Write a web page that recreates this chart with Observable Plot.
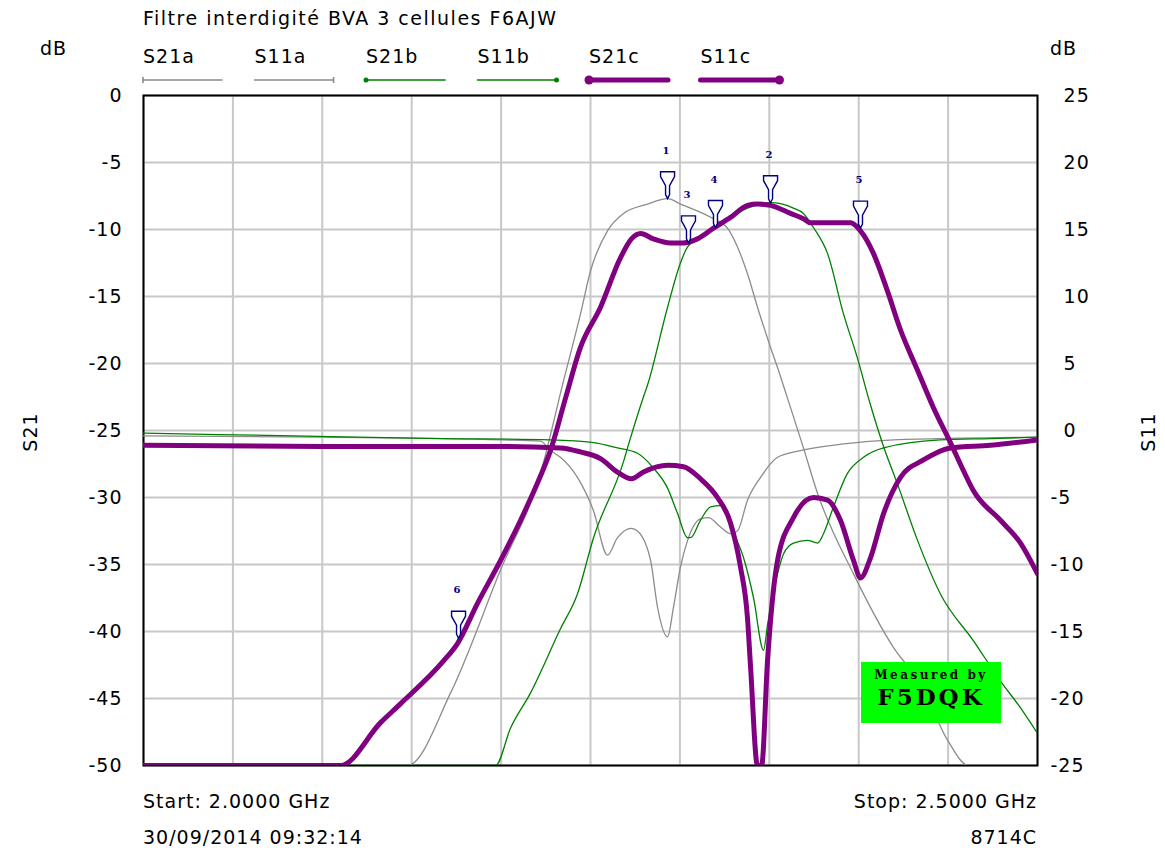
<!DOCTYPE html>
<html><head><meta charset="utf-8">
<script src="https://cdn.jsdelivr.net/npm/d3@7"></script>
<script src="https://cdn.jsdelivr.net/npm/@observablehq/plot@0.6"></script>
<style>
body{margin:0;background:#fff;}
#wrap{position:relative;width:1165px;height:854px;overflow:hidden;font-family:"DejaVu Sans",sans-serif;}
#wrap svg{position:absolute;left:0;top:0;}
.t{position:absolute;font-size:19px;letter-spacing:1px;color:#000;white-space:nowrap;line-height:1;transform:translateY(-50%);}
.r{transform:translate(-100%,-50%);}
.rot{transform:translate(-50%,-50%) rotate(-90deg);}
#badge{position:absolute;left:861px;top:662px;width:140px;height:61px;background:#00ff00;text-align:center;font-family:"DejaVu Serif",serif;font-weight:bold;color:#000;}
</style></head><body><div id="wrap"></div>
<script>
// ---------- data ----------
const title = "Filtre interdigité BVA 3 cellules F6AJW";
const xGrid = [2.00, 2.05, 2.10, 2.15, 2.20, 2.25, 2.30, 2.35, 2.40, 2.45, 2.50];
const yTicksS21 = [0, -5, -10, -15, -20, -25, -30, -35, -40, -45, -50];
const s11Offset = 25; // right axis (S11) = left axis (S21) + 25

const seriesNames = ["S21a", "S11a", "S21b", "S11b", "S21c", "S11c"];
const seriesColors = ["#8c8c8c", "#8c8c8c", "#008000", "#008000", "#800080", "#800080"];

// S21a (dB, left axis)
const s21aFreq = [2.0, 2.1477, 2.1717, 2.1997, 2.2220, 2.2349, 2.2444, 2.2500, 2.2595, 2.2685, 2.2819, 2.2931, 2.3003, 2.3188, 2.3266, 2.3322, 2.3378, 2.3434, 2.3507, 2.3546, 2.3602, 2.3691, 2.3770, 2.3971, 2.4195, 2.4346, 2.4497, 2.4614, 2.5];
const s21aDb   = [-50, -50, -44.6, -35.4, -28.2, -21.3, -16.3, -13.1, -10.1, -8.8, -8.1, -7.7, -8.1, -9.2, -9.9, -11.3, -13.3, -15.8, -18.8, -20.3, -22.6, -26.3, -29.7, -35.7, -41.2, -43.9, -48.1, -50, -50];

// S11a (dB, right axis)
const s11aFreq = [2.0, 2.1, 2.2, 2.2220, 2.2276, 2.2332, 2.2427, 2.2517, 2.2595, 2.2651, 2.2729, 2.2763, 2.2836, 2.2875, 2.2931, 2.2964, 2.3003, 2.3043, 2.3115, 2.3160, 2.3227, 2.3283, 2.3322, 2.3378, 2.3451, 2.3546, 2.3674, 2.3915, 2.4195, 2.5];
const s11aDb   = [-0.4, -0.5, -0.7, -0.8, -1.5, -2.0, -3.5, -6.0, -9.3, -8.0, -7.3, -7.5, -9.7, -13.2, -15.4, -13.2, -10.2, -8.2, -6.6, -6.5, -7.2, -7.7, -7.5, -5.2, -3.5, -2.0, -1.5, -1.0, -0.7, -0.5];

// S21b (dB, left axis)
const s21bFreq = [2.0, 2.1969, 2.2053, 2.2164, 2.2332, 2.2427, 2.2517, 2.2685, 2.2707, 2.2796, 2.2819, 2.2931, 2.3003, 2.3043, 2.3115, 2.3227, 2.3378, 2.3507, 2.3635, 2.3691, 2.3747, 2.3826, 2.3915, 2.3993, 2.4066, 2.4139, 2.4217, 2.4329, 2.4457, 2.4642, 2.4793, 2.4905, 2.5];
const s21bDb   = [-50, -50, -47.2, -44.6, -39.8, -37.2, -33.0, -27.3, -26.3, -22.5, -21.6, -15.8, -12.5, -11.3, -10.6, -9.6, -8.4, -8.0, -8.4, -8.8, -9.85, -11.8, -16.3, -19.6, -23.1, -26.2, -29.0, -33.2, -37.2, -40.7, -43.7, -45.7, -47.6];

// S11b (dB, right axis)
const s11bFreq = [2.0, 2.0839, 2.1677, 2.2276, 2.2517, 2.2651, 2.2763, 2.2852, 2.2931, 2.2987, 2.3043, 2.3059, 2.3115, 2.3171, 2.3227, 2.3266, 2.3305, 2.3356, 2.3412, 2.3468, 2.3490, 2.3546, 2.3580, 2.3635, 2.3714, 2.3770, 2.3803, 2.3859, 2.3937, 2.4027, 2.4139, 2.4457, 2.4737, 2.5];
const s11bDb   = [-0.2, -0.4, -0.6, -0.7, -0.9, -1.3, -1.7, -2.8, -4.3, -6.2, -8.0, -8.0, -6.7, -5.7, -5.6, -6.0, -7.7, -9.5, -12.5, -16.4, -14.5, -10.7, -9.2, -8.4, -8.2, -8.4, -7.7, -5.7, -3.2, -2.0, -1.3, -0.7, -0.6, -0.5];

// S21c (dB, left axis)
const s21cFreq = [2.0, 2.1102, 2.1326, 2.1437, 2.1678, 2.1756, 2.1868, 2.1997, 2.2109, 2.2220, 2.2276, 2.2360, 2.2444, 2.2556, 2.2668, 2.2729, 2.2780, 2.2852, 2.2947, 2.3020, 2.3098, 2.3188, 2.3283, 2.3378, 2.3434, 2.3507, 2.3619, 2.3691, 2.3730, 2.3954, 2.4010, 2.4083, 2.4161, 2.4234, 2.4329, 2.4418, 2.4513, 2.4586, 2.4642, 2.4793, 2.4905, 2.5];
const s21cDb   = [-50, -50, -46.8, -45.4, -42.2, -40.9, -37.9, -34.7, -31.7, -28.4, -26.5, -22.6, -18.8, -15.8, -12.1, -10.7, -10.3, -10.7, -11.0, -11.0, -10.7, -9.9, -9.1, -8.2, -8.1, -8.2, -8.8, -9.2, -9.5, -9.5, -10.1, -11.8, -14.6, -17.5, -20.5, -23.3, -25.9, -28.0, -29.5, -31.7, -33.4, -35.7];

// S11c (dB, right axis)
const s11cFreq = [2.0, 2.1, 2.2, 2.2332, 2.2444, 2.2556, 2.2651, 2.2729, 2.2796, 2.2931, 2.3020, 2.3115, 2.3210, 2.3283, 2.3339, 2.3378, 2.3395, 2.3434, 2.3457, 2.3490, 2.3546, 2.3635, 2.3747, 2.3826, 2.3898, 2.3971, 2.4010, 2.4066, 2.4139, 2.4234, 2.4362, 2.4513, 2.4737, 2.5];
const s11cDb   = [-1.1, -1.2, -1.2, -1.3, -1.6, -2.1, -3.1, -3.6, -3.1, -2.6, -2.7, -3.6, -5.0, -6.9, -10.2, -14.0, -17.6, -25, -25, -17.2, -9.7, -6.5, -5.0, -5.2, -6.7, -9.7, -11.0, -9.5, -6.2, -3.5, -2.2, -1.3, -1.1, -0.7];

// markers (on left S21 scale)
const markerNums = ["1", "2", "3", "4", "5", "6"];
const markerFreq = [2.2931, 2.3507, 2.3048, 2.3199, 2.4010, 2.1762];
const markerDb   = [-7.7, -8.0, -11.0, -9.85, -9.9, -40.5];

const footerLeft = ["Start: 2.0000 GHz", "30/09/2014 09:32:14"];
const footerRight = ["Stop: 2.5000 GHz", "8714C"];

// ---------- build ----------
const seriesData = [
  {freq: s21aFreq, db: s21aDb, s11: false, w: 1.3, end: "left"},
  {freq: s11aFreq, db: s11aDb, s11: true,  w: 1.3, end: "right"},
  {freq: s21bFreq, db: s21bDb, s11: false, w: 1.3, end: "left"},
  {freq: s11bFreq, db: s11bDb, s11: true,  w: 1.3, end: "right"},
  {freq: s21cFreq, db: s21cDb, s11: false, w: 5,   end: "left"},
  {freq: s11cFreq, db: s11cDb, s11: true,  w: 5,   end: "right"}
].map((s, i) => ({...s, name: seriesNames[i], color: seriesColors[i]}));

const rowsOf = s => s.freq.map((f, i) => ({f, y: s.s11 ? s.db[i] - s11Offset : s.db[i]}));
const markers = markerNums.map((n, i) => ({n, f: markerFreq[i], y: markerDb[i]}));

const pin = {draw(ctx) {
  ctx.moveTo(-7, -27); ctx.lineTo(7, -27); ctx.lineTo(7, -22);
  ctx.lineTo(2, -13); ctx.lineTo(2, -4); ctx.lineTo(0, 0); ctx.lineTo(-2, -4);
  ctx.lineTo(-2, -13); ctx.lineTo(-7, -22); ctx.closePath();
}};

const chart = Plot.plot({
  width: 1165, height: 854,
  marginTop: 95, marginBottom: 89, marginLeft: 143, marginRight: 128,
  x: {domain: [2, 2.5], axis: null},
  y: {domain: [-50, 0]},
  style: {fontFamily: "DejaVu Sans, sans-serif", fontSize: "19px", background: "white", color: "black", letterSpacing: "1px"},
  marks: [
    Plot.ruleX(xGrid, {stroke: "#c8c8c8", strokeWidth: 2}),
    Plot.ruleY(yTicksS21, {stroke: "#c8c8c8", strokeWidth: 2}),
    Plot.frame({stroke: "#000", strokeWidth: 2}),
    Plot.axisY({ticks: yTicksS21, anchor: "left", tickSize: 0, tickPadding: 21, label: null, tickFormat: d => String(d), fontSize: 19}),
    Plot.axisY({ticks: yTicksS21, anchor: "right", tickSize: 0, tickPadding: 13, label: null, textAnchor: "start",
      tickFormat: d => { const v = d + s11Offset; return v >= 0 ? "\u2007" + v : String(v); }, fontSize: 19}),
    ...seriesData.map(s => Plot.line(rowsOf(s), {x: "f", y: "y", stroke: s.color, strokeWidth: s.w, clip: true,
      curve: "monotone-x", strokeLinejoin: "round", strokeLinecap: "round"})),
    Plot.dot(markers, {x: "f", y: "y", symbol: pin, r: 10, fill: "white", stroke: "#000080", strokeWidth: 1.4}),
    Plot.text(markers, {x: "f", y: "y", text: "n", dy: -48, dx: -1, fill: "#000080", fontSize: 10, fontWeight: "bold", fontFamily: "DejaVu Serif, serif"})
  ]
});

const wrap = document.getElementById("wrap");
wrap.appendChild(chart);

function addText(txt, x, y, cls, ls) {
  const d = document.createElement("div");
  d.className = "t" + (cls ? " " + cls : "");
  d.style.left = x + "px"; d.style.top = y + "px";
  if (ls) d.style.letterSpacing = ls;
  d.textContent = txt;
  wrap.appendChild(d);
  return d;
}
addText(title, 143, 18, null, "1.5px");
addText("dB", 40, 48);
addText("dB", 1050, 48);
addText("S21", 30, 432, "rot");
addText("S11", 1148, 432, "rot");
addText(footerLeft[0], 143, 801);
addText(footerLeft[1], 143, 837);
addText(footerRight[0], 1037, 801, "r");
addText(footerRight[1], 1037, 837, "r");

// legend
const lg = d3.select(wrap).append("svg").attr("width", 1165).attr("height", 95).style("pointer-events", "none");
seriesData.forEach((s, i) => {
  const x0 = 143 + i * 111.5, x1 = x0 + 79, y = 80;
  addText(s.name, x0, 56);
  lg.append("line").attr("x1", x0).attr("x2", x1).attr("y1", y).attr("y2", y)
    .attr("stroke", s.color).attr("stroke-width", s.w > 2 ? 5 : 1.6).attr("stroke-linecap", "round");
  const ex = s.end === "left" ? x0 : x1;
  if (s.w > 2) {
    lg.append("circle").attr("cx", ex).attr("cy", y).attr("r", 4.5).attr("fill", s.color);
  } else if (s.color === "#008000") {
    lg.append("circle").attr("cx", ex).attr("cy", y).attr("r", 2.5).attr("fill", s.color);
  } else {
    lg.append("line").attr("x1", ex).attr("x2", ex).attr("y1", y - 3).attr("y2", y + 3).attr("stroke", s.color).attr("stroke-width", 1.6);
  }
});

// badge
const b = document.createElement("div");
b.id = "badge";
b.innerHTML = '<div style="font-size:12px;letter-spacing:2.5px;padding-top:6px;line-height:14px">Measured by</div>' +
              '<div style="font-size:23px;letter-spacing:3px;line-height:30px">F5DQK</div>';
wrap.appendChild(b);
</script>
</body></html>
